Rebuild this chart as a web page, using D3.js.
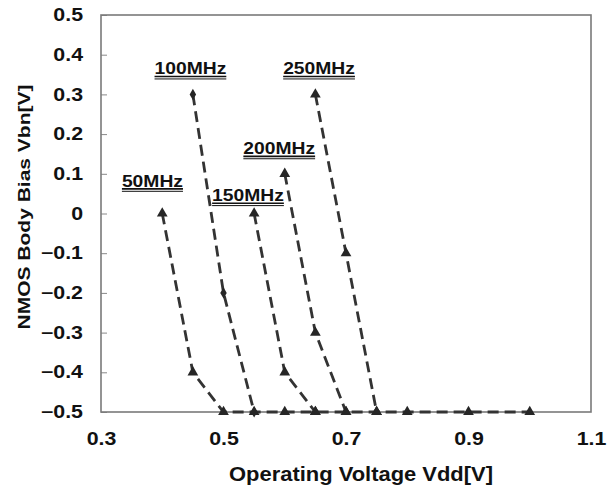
<!DOCTYPE html>
<html>
<head>
<meta charset="utf-8">
<script src="https://cdn.jsdelivr.net/npm/d3@7.9.0/dist/d3.min.js"></script>
<style>
  body { margin: 0; background: #fff; }
  text { font-family: "Liberation Sans", Arial, sans-serif; font-weight: bold; fill: #111; }
</style>
</head>
<body>
<svg id="chart" width="614" height="489"></svg>
<script>
// Vdd [V] / Vbn [V] per clock frequency
const vdd50  = [0.40, 0.45, 0.50, 0.55, 0.60, 0.65, 0.70, 0.75, 0.80, 0.90, 1.00];
const vbn50  = [0.0, -0.4, -0.5, -0.5, -0.5, -0.5, -0.5, -0.5, -0.5, -0.5, -0.5];
const vdd100 = [0.45, 0.50, 0.55];
const vbn100 = [0.3, -0.2, -0.5];
const vdd150 = [0.55, 0.60, 0.65];
const vbn150 = [0.0, -0.4, -0.5];
const vdd200 = [0.60, 0.65, 0.70];
const vbn200 = [0.1, -0.3, -0.5];
const vdd250 = [0.65, 0.70, 0.75];
const vbn250 = [0.3, -0.1, -0.5];

const freqLabels = ["50MHz", "100MHz", "150MHz", "200MHz", "250MHz"];
const xTicks = [0.3, 0.5, 0.7, 0.9, 1.1];
const yTicks = [0.5, 0.4, 0.3, 0.2, 0.1, 0, -0.1, -0.2, -0.3, -0.4, -0.5];

const series = [
  { name: "100MHz", vdd: vdd100, vbn: vbn100, symbol: d3.symbolDiamond },
  { name: "150MHz", vdd: vdd150, vbn: vbn150, symbol: d3.symbolTriangle },
  { name: "200MHz", vdd: vdd200, vbn: vbn200, symbol: d3.symbolTriangle },
  { name: "250MHz", vdd: vdd250, vbn: vbn250, symbol: d3.symbolTriangle },
  { name: "50MHz",  vdd: vdd50,  vbn: vbn50,  symbol: d3.symbolTriangle }
];

// label anchors (data units: centre x, baseline y)
const labelAt = {
  "50MHz":  [0.384, 0.068],
  "100MHz": [0.446, 0.351],
  "150MHz": [0.540, 0.032],
  "200MHz": [0.591, 0.150],
  "250MHz": [0.656, 0.351]
};

const SX = 1.22; // source picture is wider than its fonts

const svg = d3.select("#chart"),
      margin = { top: 15, right: 23, bottom: 77, left: 101 },
      innerWidth = +svg.attr("width") - margin.left - margin.right,
      innerHeight = +svg.attr("height") - margin.top - margin.bottom;

const chart = svg.append("g")
    .attr("transform", `translate(${margin.left},${margin.top})`);

const xScale = d3.scaleLinear().domain([0.3, 1.1]).range([0, innerWidth]);
const yScale = d3.scaleLinear().domain([-0.5, 0.5]).range([innerHeight, 0]);

// widen text without transforms
function widen(sel, k) {
  sel.each(function() {
    const len = this.getComputedTextLength();
    d3.select(this)
      .attr("textLength", len * k)
      .attr("lengthAdjust", "spacingAndGlyphs");
  });
}

const yAxis = chart.append("g")
    .call(d3.axisLeft(yScale).tickValues(yTicks).tickSizeInner(-6).tickSizeOuter(0).tickPadding(18)
      .tickFormat(d => d === 0 ? "0" : d3.format(".1f")(d)));
yAxis.select(".domain").remove();
yAxis.selectAll("line").attr("stroke", "#888").attr("stroke-width", 1);
yAxis.selectAll("text").attr("font-size", 17.5).style("fill", "#111").call(widen, SX);

const xAxis = chart.append("g")
    .attr("transform", `translate(0,${innerHeight})`)
    .call(d3.axisBottom(xScale).tickValues(xTicks).tickSize(0).tickPadding(21).tickFormat(d3.format(".1f")));
xAxis.select(".domain").remove();
xAxis.selectAll("text").attr("font-size", 17.5).style("fill", "#111").call(widen, SX);

chart.append("rect")
    .attr("x", 0).attr("y", 0)
    .attr("width", innerWidth).attr("height", innerHeight)
    .attr("fill", "none")
    .attr("stroke", "#7a7a7a")
    .attr("stroke-width", 1.6);

svg.append("text")
    .attr("x", 361).attr("y", 481)
    .attr("text-anchor", "middle")
    .attr("font-size", 19.5)
    .attr("textLength", 264)
    .attr("lengthAdjust", "spacingAndGlyphs")
    .text("Operating Voltage Vdd[V]");

svg.append("text")
    .attr("transform", "translate(30,207) rotate(-90)")
    .attr("text-anchor", "middle")
    .attr("font-size", 17)
    .attr("textLength", 245)
    .attr("lengthAdjust", "spacingAndGlyphs")
    .text("NMOS Body Bias Vbn[V]");

const line = d3.line()
    .x(d => xScale(d[0]))
    .y(d => yScale(d[1]));

series.forEach(s => {
  const pts = s.vdd.map((v, i) => [v, s.vbn[i]]);
  chart.append("path")
      .datum(pts)
      .attr("fill", "none")
      .attr("stroke", "#333")
      .attr("stroke-width", 2.8)
      .attr("stroke-dasharray", "11,6")
      .attr("d", line);
});

series.forEach(s => {
  const pts = s.vdd.map((v, i) => [v, s.vbn[i]]);
  chart.selectAll(null)
      .data(pts)
      .enter()
      .append("path")
      .attr("transform", d => `translate(${xScale(d[0])},${yScale(d[1])})`)
      .attr("d", d3.symbol().type(s.symbol).size(s.symbol === d3.symbolDiamond ? 36 : 50))
      .attr("fill", "#262626");
});

freqLabels.forEach(name => {
  const [lx, ly] = labelAt[name];
  const cx = xScale(lx), by = yScale(ly);
  const t = chart.append("text")
      .attr("x", cx).attr("y", by)
      .attr("text-anchor", "middle")
      .attr("font-size", 15.8)
      .text(name);
  const w = t.node().getComputedTextLength() * SX;
  t.attr("textLength", w).attr("lengthAdjust", "spacingAndGlyphs");
  [2.4, 4.8].forEach((off, i) => {
    chart.append("line")
        .attr("x1", cx - w / 2).attr("x2", cx + w / 2)
        .attr("y1", by + off).attr("y2", by + off)
        .attr("stroke", "#111")
        .attr("stroke-width", i === 0 ? 1.6 : 1);
  });
});
</script>
</body>
</html>
